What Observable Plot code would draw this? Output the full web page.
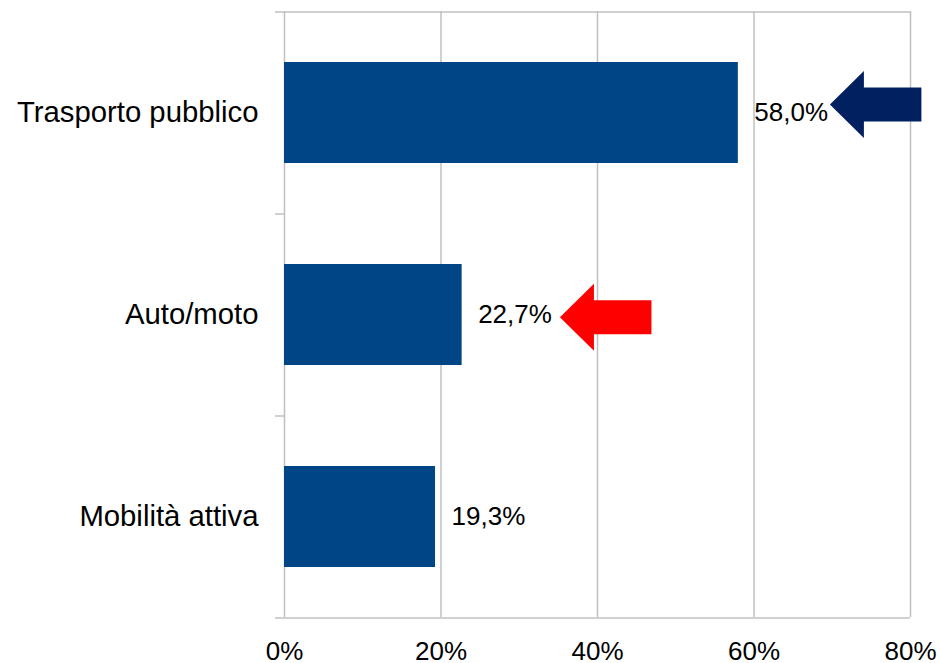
<!DOCTYPE html>
<html><head><meta charset="utf-8">
<script src="https://cdn.jsdelivr.net/npm/d3@7"></script>
<script src="https://cdn.jsdelivr.net/npm/@observablehq/plot@0.6"></script>
<style>html,body{margin:0;padding:0;background:#fff}#chart svg{display:block}</style>
</head><body><div id="chart"></div>
<script>
const categories = ["Trasporto pubblico", "Auto/moto", "Mobilità attiva"];
const values = [58.0, 22.7, 19.3];
const xTicks = [0, 20, 40, 60, 80];
const arrowCategories = ["Trasporto pubblico", "Auto/moto"];
const arrowTips = [69.7, 35.2];
const arrowColors = ["#002060", "#ff0000"];

const data = categories.map((c, i) => ({category: c, value: values[i]}));
const arrows = arrowCategories.map((c, i) => ({category: c, x: arrowTips[i], color: arrowColors[i]}));
const fmt = v => v.toFixed(1).replace(".", ",") + "%";

const blockArrow = {
  draw(ctx) {
    ctx.moveTo(0, 0);
    ctx.lineTo(34, -33.5);
    ctx.lineTo(34, -17);
    ctx.lineTo(91.5, -17);
    ctx.lineTo(91.5, 17);
    ctx.lineTo(34, 17);
    ctx.lineTo(34, 33.5);
    ctx.closePath();
  }
};

const gridColor = "#c0c0c0";
const first = [categories[0]];
const last = [categories[categories.length - 1]];
const middle = categories.slice(1);

const chart = Plot.plot({
  width: 940,
  height: 663,
  marginLeft: 284,
  marginRight: 30,
  marginTop: 11,
  marginBottom: 46,
  style: {fontFamily: "'Liberation Sans', Arial, sans-serif", color: "#000", background: "#fff", overflow: "visible"},
  x: {domain: [0, 80]},
  y: {domain: categories, paddingInner: 0.5, paddingOuter: 0.25},
  marks: [
    Plot.ruleX(xTicks, {stroke: gridColor, strokeWidth: 1.5}),
    Plot.ruleY(first, {y: d => d, dy: -101, insetLeft: -9, stroke: gridColor, strokeWidth: 1.5}),
    Plot.ruleY(last, {y: d => d, dy: 101, insetLeft: -9, stroke: gridColor, strokeWidth: 1.5}),
    Plot.ruleY(middle, {y: d => d, dy: -101, insetLeft: -9, insetRight: 626, stroke: gridColor, strokeWidth: 1.5}),
    Plot.barX(data, {x: "value", y: "category", fill: "#004586"}),
    Plot.text(data, {x: "value", y: "category", text: d => fmt(d.value), dx: 16, textAnchor: "start", fontSize: 26, fill: "#000"}),
    Plot.dot(arrows.slice(0, 1), {x: "x", y: "category", symbol: blockArrow, fill: "color", stroke: null, dy: -8.5}),
    Plot.dot(arrows.slice(1, 2), {x: "x", y: "category", symbol: blockArrow, fill: "color", stroke: null, dy: 2.3}),
    Plot.axisY({tickSize: 0, tickPadding: 26, fontSize: 29.3, label: null}),
    Plot.axisX({ticks: xTicks, tickSize: 0, tickPadding: 24, fontSize: 26, tickFormat: d => d + "%", label: null})
  ]
});
document.getElementById("chart").appendChild(chart);
</script>
</body></html>
